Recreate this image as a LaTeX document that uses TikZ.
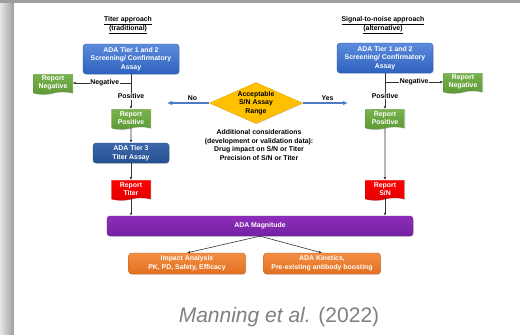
\documentclass[tikz,border=0pt]{standalone}
\usepackage{fontspec}
\setmainfont{Liberation Sans}
\usetikzlibrary{shapes.geometric,shapes.symbols,arrows.meta,shadows}
\definecolor{tierA}{HTML}{5B8BDB}
\definecolor{tierB}{HTML}{2F62BF}
\definecolor{tierC}{HTML}{3C67AC}
\definecolor{tierD}{HTML}{27508F}
\definecolor{repgreen}{HTML}{77B24C}
\definecolor{repgreenB}{HTML}{5F9A37}
\definecolor{magA}{HTML}{8E2DBA}
\definecolor{magB}{HTML}{7421A3}
\definecolor{orgA}{HTML}{F28E44}
\definecolor{orgB}{HTML}{E2701F}
\definecolor{accgold}{HTML}{FFC000}
\definecolor{arrblue}{HTML}{4A7CC9}
\newcommand{\twoline}[2]{\underline{#1}\\\underline{#2}}

\begin{document}
\begin{tikzpicture}[x=1pt,y=-1pt]
    \tikzset{every node/.style={font=\fontsize{6.9}{8.6}\selectfont\bfseries, align=center, inner sep=1pt},
      softshadow/.style={drop shadow={opacity=0.25,shadow xshift=0.8pt,shadow yshift=-0.8pt}},
      tierbox/.style={rectangle, rounded corners=3pt, top color=tierA, bottom color=tierB, draw=tierB!85!black, line width=0.3pt, text=white, minimum width=96pt, minimum height=30pt, softshadow},
      titerbox/.style={tierbox, top color=tierC, bottom color=tierD, draw=tierD!85!black, minimum width=76pt, minimum height=20pt},
      reportbox/.style={tape, tape bend top=none, tape bend bottom=in and out, tape bend height=2.5pt, top color=repgreen, bottom color=repgreenB, draw=repgreenB!90!black, line width=0.3pt, text=white, minimum width=39pt, minimum height=20pt, softshadow},
      redbox/.style={reportbox, top color=red, bottom color=red!88!black, draw=red!80!black},
      magbox/.style={rectangle, rounded corners=3pt, top color=magA, bottom color=magB, draw=magB!85!black, line width=0.3pt, text=white, minimum width=306pt, minimum height=20pt, softshadow},
      orgbox/.style={rectangle, rounded corners=3pt, top color=orgA, bottom color=orgB, draw=orgB!85!black, line width=0.3pt, text=white, minimum width=117pt, minimum height=21pt, softshadow},
      conn/.style={draw=black!80, line width=0.6pt, -{Latex[length=3pt,width=2.6pt]}},
      yesno/.style={draw=arrblue, line width=1.1pt, -{Latex[length=5pt,width=4.5pt]}},
      lbl/.style={fill=white, inner sep=0.8pt}}
% card and its shadow
\useasboundingbox (0,0) rectangle (520,335);
\fill[white] (0,0) rectangle (520,335);
\shade[left color=black!10, right color=black!38] (0,0) rectangle (14,335);
\fill[black!38] (0,0) rectangle (520,3);
\fill[white] (14,3) rectangle (520,335);

\node(titleL) at (128,25) {\twoline{Titer approach}{(traditional)}};
\node(titleR) at (383,25) {\twoline{Signal-to-noise approach}{(alternative)}};

\node[tierbox](tierL) at (131,59) {ADA Tier 1 and 2\\Screening/ Confirmatory\\Assay};
\node[reportbox](negL) at (53,83) {Report\\Negative};
\node[reportbox](posL) at (131,118) {Report\\Positive};
\node[titerbox](tier3) at (131,153) {ADA Tier 3\\Titer Assay};
\node[redbox](titer) at (131,189) {Report\\Titer};

\node[tierbox](tierR) at (385,58) {ADA Tier 1 and 2\\Screening/ Confirmatory\\Assay};
\node[reportbox](negR) at (463,82) {Report\\Negative};
\node[reportbox](posR) at (385,118) {Report\\Positive};
\node[redbox](sn) at (385,189) {Report\\S/N};

\node[diamond, aspect=2.3, fill=accgold, draw=accgold!85!black, line width=0.3pt, inner sep=0pt, minimum width=93pt, minimum height=41pt, softshadow](range) at (256,103) {Acceptable\\S/N Assay\\Range};
\node[font=\fontsize{6.9}{8.4}\selectfont\bfseries](extra) at (259,145) {Additional considerations\\(development or validation data):\\Drug impact on S/N or Titer\\Precision of S/N or Titer};

\node[magbox](mag) at (260,226) {ADA Magnitude};
\node[orgbox](impact) at (187,263.5) {Impact Analysis\\PK, PD, Safety, Efficacy};
\node[orgbox](kin) at (322,263.5) {ADA Kinetics,\\Pre-existing antibody boosting};

\node[font=\fontsize{21}{24}\selectfont, text=black!50](cite) at (279,317) {\textit{Manning et al.} (2022)};

\coordinate(brL) at (131,83);
\coordinate(brR) at (385,82);
\coordinate(noEnd) at (167,103);
\coordinate(yesEnd) at (348,103);

\draw[conn] (tierL) -- node[lbl,pos=0.64]{Positive} (posL);
\draw[draw=black!80, line width=0.6pt] (tierL.south) -- (brL);
\draw[conn] (brL) -- node[lbl,pos=0.45]{Negative} (negL.east);
\draw[conn] (posL) -- (tier3);
\draw[conn] (tier3) -- (titer);
\draw[conn] (titer.south) -- (titer.south |- mag.north);

\draw[conn] (tierR) -- node[lbl,pos=0.64]{Positive} (posR);
\draw[conn] (brR) -- node[lbl,pos=0.5]{Negative} (negR.west);
\draw[conn] (posR) -- (sn);
\draw[conn] (sn.south) -- (sn.south |- mag.north);

\draw[yesno] (range.west) -- node[above=1pt,pos=0.4,text=black]{No} (noEnd);
\draw[yesno] (range.east) -- node[above=1pt,pos=0.55,text=black]{Yes} (yesEnd);

\draw[conn] (mag.south) -- (impact.north);
\draw[conn] (mag.south) -- (kin.north);

\end{tikzpicture}
\end{document}
